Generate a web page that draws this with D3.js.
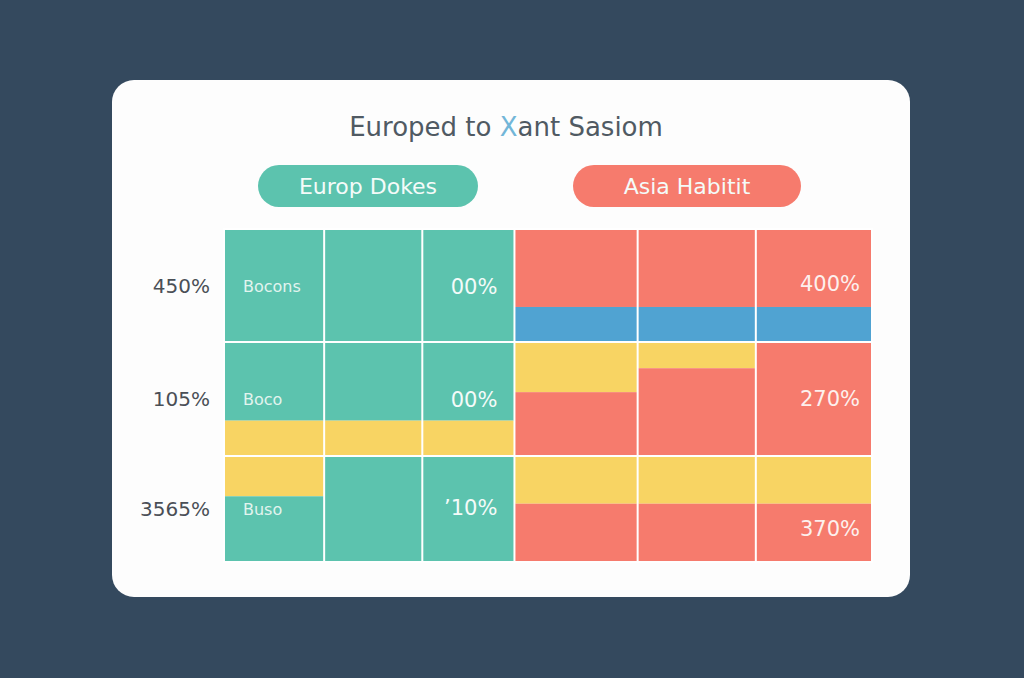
<!DOCTYPE html>
<html>
<head>
<meta charset="utf-8">
<script src="https://cdn.jsdelivr.net/npm/d3@7"></script>
<style>
  html, body { margin: 0; padding: 0; background: #34495e; }
  svg { display: block; }
</style>
</head>
<body>
<svg id="chart" width="1024" height="678"></svg>
<script>
// ---- data ----
const titleParts = ["Europed to ", "X", "ant Sasiom"];
const groups = ["Europ Dokes", "Asia Habitit"];
const columns = ["E1", "E2", "E3", "A1", "A2", "A3"];
const columnShare = [100, 98, 92, 123, 118, 116];
const rows = ["r1", "r2", "r3"];
const rowShare = [113, 114, 106];
const rowLabels = ["450%", "105%", "3565%"];
const cellLabels = ["Bocons", "Boco", "Buso"];
const europeValueLabels = ["00%", "00%", "\u02bc10%"];
const asiaValueLabels = ["400%", "270%", "370%"];
const seriesKeys = ["teal", "red", "yellow", "blue"];
// segments per cell (top to bottom), shares of the row height (sum = 100)
const cellSegments = [
  // row 1
  [[["teal",100]], [["teal",100]], [["teal",100]], [["red",69],["blue",31]], [["red",69],["blue",31]], [["red",69],["blue",31]]],
  // row 2
  [[["teal",69],["yellow",31]], [["teal",69],["yellow",31]], [["teal",69],["yellow",31]], [["yellow",44],["red",56]], [["yellow",23],["red",77]], [["red",100]]],
  // row 3
  [[["yellow",38],["teal",62]], [["teal",100]], [["teal",100]], [["yellow",45],["red",55]], [["yellow",45],["red",55]], [["yellow",45],["red",55]]]
];

// ---- drawing ----
const FONT = "DejaVu Sans, Verdana, sans-serif";
const svg = d3.select("#chart");
const color = d3.scaleOrdinal().domain(seriesKeys).range(["#5cc3ae", "#f67b6d", "#f8d463", "#50a3d2"]);
const groupColor = d3.scaleOrdinal().domain(groups).range(["#5cc3ae", "#f67b6d"]);

// card
svg.append("rect").attr("x", 112).attr("y", 80).attr("width", 798).attr("height", 517)
  .attr("rx", 22).attr("fill", "#fdfdfd");

// title
const title = svg.append("text").attr("x", 506).attr("y", 136).attr("text-anchor", "middle")
  .attr("font-family", FONT).attr("font-size", 26).attr("fill", "#505a63");
title.selectAll("tspan").data(titleParts).join("tspan")
  .attr("fill", (d, i) => i === 1 ? "#72b6d8" : "#505a63").text(d => d);

// pills
const pillX = d3.scaleOrdinal().domain(groups).range([258, 573]);
const pillW = d3.scaleOrdinal().domain(groups).range([220, 228]);
const pill = svg.selectAll("g.pill").data(groups).join("g").attr("class", "pill");
pill.append("rect").attr("x", d => pillX(d)).attr("y", 165).attr("width", d => pillW(d)).attr("height", 42)
  .attr("rx", 21).attr("fill", d => groupColor(d));
pill.append("text").attr("x", d => pillX(d) + pillW(d) / 2).attr("y", 194).attr("text-anchor", "middle")
  .attr("font-family", FONT).attr("font-size", 22).attr("fill", "#f4fbf9")
  .text(d => d);

// scales
const colEdges = [0, ...Array.from(d3.cumsum(columnShare))];
const rowEdges = [0, ...Array.from(d3.cumsum(rowShare))];
const x = d3.scaleLinear().domain([0, d3.sum(columnShare)]).range([224, 872]);
const y = d3.scaleLinear().domain([0, d3.sum(rowShare)]).range([229, 562]);

const cells = [];
rows.forEach((r, ri) => columns.forEach((c, ci) => {
  let acc = 0;
  const inner = d3.scaleLinear().domain([0, 100]).range([y(rowEdges[ri]), y(rowEdges[ri + 1])]);
  cellSegments[ri][ci].forEach(([k, v]) => {
    cells.push({ k, x0: x(colEdges[ci]), x1: x(colEdges[ci + 1]), y0: inner(acc), y1: inner(acc + v),
      top: acc === 0, bottom: acc + v === 100 });
    acc += v;
  });
}));

// white background of grid (gap lines)
svg.append("rect").attr("x", x(0) - 1).attr("y", y(0) - 1).attr("width", x.range()[1] - x.range()[0] + 2)
  .attr("height", y.range()[1] - y.range()[0] + 2).attr("fill", "#ffffff");

svg.append("g").selectAll("rect").data(cells).join("rect")
  .attr("x", d => d.x0 + 1)
  .attr("y", d => d.y0 + (d.top ? 1 : 0))
  .attr("width", d => d.x1 - d.x0 - 2)
  .attr("height", d => d.y1 - d.y0 - (d.top ? 1 : 0) - (d.bottom ? 1 : 0))
  .attr("fill", d => color(d.k));

// row labels
const labelY = [286, 399, 509];
svg.append("g").selectAll("text").data(rowLabels).join("text")
  .attr("x", 210).attr("y", (d, i) => labelY[i] + 7).attr("text-anchor", "end")
  .attr("font-family", FONT).attr("font-size", 20).attr("fill", "#4a4f56")
  .text(d => d);

// inner name labels
svg.append("g").selectAll("text").data(cellLabels).join("text")
  .attr("x", x(0) + 19).attr("y", (d, i) => labelY[i] + 6)
  .attr("font-family", FONT).attr("font-size", 16).attr("fill", "#e2f4ef")
  .text(d => d);

// europe value labels
const evY = [286, 399, 507];
svg.append("g").selectAll("text").data(europeValueLabels).join("text")
  .attr("x", x(colEdges[3]) - 17).attr("y", (d, i) => evY[i] + 8).attr("text-anchor", "end")
  .attr("font-family", FONT).attr("font-size", 21).attr("fill", "#f4fbf9")
  .text(d => d);

// asia value labels
const avY = [283, 398, 528];
svg.append("g").selectAll("text").data(asiaValueLabels).join("text")
  .attr("x", x(colEdges[6]) - 12).attr("y", (d, i) => avY[i] + 8).attr("text-anchor", "end")
  .attr("font-family", FONT).attr("font-size", 21).attr("fill", "#fdf0ee")
  .text(d => d);
</script>
</body>
</html>
